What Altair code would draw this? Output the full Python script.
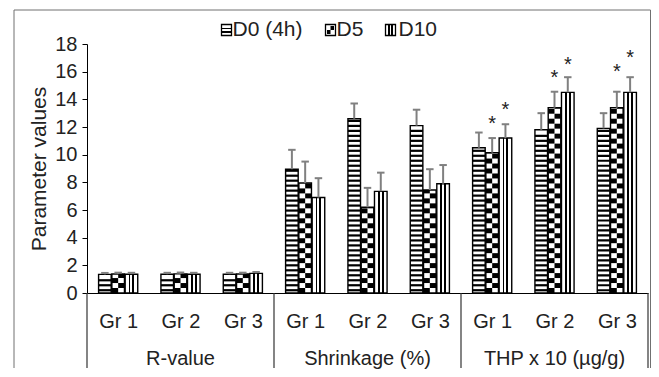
import json
import altair as alt
import pandas as pd

# ---------------- data ----------------
params = ["R-value", "Shrinkage (%)", "THP x 10 (µg/g)"]
groups = ["Gr 1", "Gr 2", "Gr 3"]
series = ["D0 (4h)", "D5", "D10"]

d0_mean = [1.35, 1.36, 1.36, 8.95, 12.6, 12.1, 10.5, 11.8, 11.9]
d5_mean = [1.37, 1.38, 1.37, 7.95, 6.2, 7.45, 10.15, 13.4, 13.4]
d10_mean = [1.36, 1.36, 1.42, 6.9, 7.35, 7.9, 11.2, 14.5, 14.5]

d0_sd = [0.1, 0.1, 0.1, 1.4, 1.1, 1.15, 1.1, 1.2, 1.1]
d5_sd = [0.1, 0.1, 0.1, 1.55, 1.4, 1.5, 1.05, 1.15, 1.15]
d10_sd = [0.1, 0.1, 0.1, 1.4, 1.35, 1.35, 1.0, 1.1, 1.1]

# level at which a significance asterisk is drawn (None = no asterisk)
d0_star = [None] * 9
d5_star = [None] * 6 + [12.6, 15.9, 16.35]
d10_star = [None] * 6 + [13.6, 16.85, 17.35]

y_ticks = [0, 2, 4, 6, 8, 10, 12, 14, 16, 18]

means = [d0_mean, d5_mean, d10_mean]
sds = [d0_sd, d5_sd, d10_sd]
stars = [d0_star, d5_star, d10_star]
NG = len(groups)
NSLOT = len(params) * NG

rows = []
for j, s in enumerate(series):
    for k in range(NSLOT):
        rows.append(dict(series=s, sidx=j, slot=k, param=params[k // NG],
                         group=groups[k % NG], value=means[j][k], sd=sds[j][k],
                         star=stars[j][k]))
df = pd.DataFrame(rows)
gdf = pd.DataFrame({"param": params, "pidx": list(range(len(params)))})
sdf = pd.DataFrame({"b": [i * NG for i in range(len(params) + 1)]})
dummy = pd.DataFrame({"k": [0]})

# ---------------- styling / layout ----------------
W, H = 561, 249
BOTTOM = 324
STEP = 0.213   # distance between bar centres (x units)
HALF = 0.101   # half bar width
P = 0.36       # pattern period (y units)
FONT = "Liberation Sans"
TXT = "#222222"
ERR = "#808080"

xscale = alt.Scale(domain=[0, NSLOT], nice=False, zero=False)
yscale = alt.Scale(domain=[0, 18], nice=False, zero=True)

xaxis = alt.Axis(values=[i + 0.5 for i in range(NSLOT)],
                 labelExpr=f"{json.dumps(groups)}[floor(datum.value) % {NG}]",
                 ticks=False, grid=False, domainColor="black", domainWidth=1.2,
                 labelFontSize=20, labelColor=TXT, labelPadding=18, title=None,
                 labelFont=FONT)
yaxis = alt.Axis(values=y_ticks, grid=False, domainColor="black", tickColor="black",
                 tickSize=5, labelFontSize=20, labelColor=TXT, labelPadding=5,
                 title="Parameter values", titleFontSize=21, titleFontWeight="normal",
                 titleColor=TXT, titlePadding=5, labelFont=FONT, titleFont=FONT)


def X(f):
    return alt.X(f, scale=xscale, axis=xaxis)


def Y(f):
    return alt.Y(f, scale=yscale, axis=yaxis)


def hard_stops(pairs):
    out = []
    for a, b, col in pairs:
        out.append({"offset": a, "color": col})
        out.append({"offset": b, "color": col})
    return out


grad_v = {"gradient": "linear", "x1": 0, "y1": 0, "x2": 1, "y2": 0,
          "stops": hard_stops([(0, 0.27, "white"), (0.27, 0.42, "black"),
                               (0.42, 0.58, "white"), (0.58, 0.73, "black"),
                               (0.73, 1, "white")])}
grad_h = {"gradient": "linear", "x1": 0, "y1": 0, "x2": 0, "y2": 1,
          "stops": hard_stops([(0, 0.3, "white"), (0.3, 0.45, "black"),
                               (0.45, 0.6, "white"), (0.6, 0.75, "black"),
                               (0.75, 1, "white")])}

base = alt.Chart(df).transform_calculate(
    c=f"datum.slot + 0.5 + (datum.sidx - 1) * {STEP}"
).transform_calculate(
    l=f"datum.c - {HALF}", r=f"datum.c + {HALF}", top="datum.value + datum.sd"
)

white = base.mark_rect(fill="white").encode(
    x=X("l:Q"), x2="r:Q", y=Y("value:Q"), y2=alt.datum(0))

vbars = base.transform_filter(f"datum.series == '{series[2]}'").mark_rect(
    fill=grad_v).encode(x=X("l:Q"), x2="r:Q", y=Y("value:Q"), y2=alt.datum(0))

hstripes = base.transform_filter(f"datum.series == '{series[0]}'").transform_calculate(
    seq=f"sequence({P / 2 + 0.02}, datum.value - 0.1, {P})"
).transform_flatten(["seq"]).transform_calculate(
    s1="datum.seq - 0.08", s2="datum.seq + 0.08"
).mark_rect(fill="black").encode(x=X("l:Q"), x2="r:Q", y=Y("s1:Q"), y2="s2:Q")

checker = base.transform_filter(f"datum.series == '{series[1]}'").transform_calculate(
    seq=f"sequence(0, datum.value - 0.05, {P})"
).transform_flatten(["seq"]).transform_calculate(
    row=f"round(datum.seq / {P})"
).transform_calculate(
    cx1="datum.row % 2 == 0 ? datum.l : datum.c",
    cx2="datum.row % 2 == 0 ? datum.c : datum.r",
    cy2=f"min(datum.seq + {P}, datum.value)"
).mark_rect(fill="black").encode(x=X("cx1:Q"), x2="cx2:Q", y=Y("seq:Q"), y2="cy2:Q")

outline = base.mark_rect(fillOpacity=0, stroke="black", strokeWidth=1.4).encode(
    x=X("l:Q"), x2="r:Q", y=Y("value:Q"), y2=alt.datum(0))

errline = base.mark_rule(color=ERR, strokeWidth=2).encode(
    x=X("c:Q"), y=Y("value:Q"), y2="top:Q")
errcap = base.transform_calculate(
    cl="datum.c - 0.06", cr="datum.c + 0.06"
).mark_rule(color=ERR, strokeWidth=2).encode(x=X("cl:Q"), x2="cr:Q", y=Y("top:Q"))

starmk = base.transform_filter("isValid(datum.star)").mark_text(
    text="*", fontSize=20, baseline="middle", dy=5, color=TXT, font=FONT
).encode(x=X("c:Q"), y=Y("star:Q"))

glabels = alt.Chart(gdf).transform_calculate(
    pos=f"datum.pidx * {NG} + {NG / 2}"
).mark_text(fontSize=20, color=TXT, font=FONT, baseline="middle").encode(
    x=X("pos:Q"), y=alt.value(H + 66), text="param:N")

seps = alt.Chart(sdf).mark_rule(color="#333333", strokeWidth=1.2).encode(
    x=X("b:Q"), y=alt.value(H), y2=alt.value(BOTTOM))

FR = "#707070"
frame_l = alt.Chart(dummy).mark_rule(color=FR).encode(
    x=alt.value(-73), y=alt.value(-34), y2=alt.value(BOTTOM))
frame_r = alt.Chart(dummy).mark_rule(color=FR).encode(
    x=alt.value(563.5), y=alt.value(-34), y2=alt.value(BOTTOM))
frame_t = alt.Chart(dummy).mark_rule(color=FR).encode(
    x=alt.value(-73), x2=alt.value(563.5), y=alt.value(-34))

# ---------------- legend ----------------
LY1, LY2 = -19.5, -8.5
sw_x = [134.5, 238.5, 298.5]
tx_x = [145.5, 249.5, 311.5]
legend = []
fills = [grad_h, "white", grad_v]
for j in range(len(series)):
    legend.append(alt.Chart(dummy).mark_rect(fill=fills[j], stroke="black", strokeWidth=1.3).encode(
        x=alt.value(sw_x[j]), x2=alt.value(sw_x[j] + 10), y=alt.value(LY1), y2=alt.value(LY2)))
    legend.append(alt.Chart(dummy).mark_text(text=series[j], fontSize=21, align="left",
                                             baseline="middle", color=TXT, font=FONT).encode(
        x=alt.value(tx_x[j]), y=alt.value(-14)))
# checker marks inside the D5 swatch
legend.append(alt.Chart(dummy).mark_rect(fill="black").encode(
    x=alt.value(sw_x[1] + 1.5), x2=alt.value(sw_x[1] + 5), y=alt.value(LY1 + 5.5), y2=alt.value(LY2 - 1.5)))
legend.append(alt.Chart(dummy).mark_rect(fill="black").encode(
    x=alt.value(sw_x[1] + 5), x2=alt.value(sw_x[1] + 8.5), y=alt.value(LY1 + 1.5), y2=alt.value(LY1 + 5.5)))

chart = alt.layer(
    white, vbars, hstripes, checker, outline, errline, errcap, starmk,
    glabels, seps, frame_l, frame_r, frame_t, *legend
).properties(
    width=W, height=H,
    padding={"left": 5, "top": 1, "right": 0, "bottom": 0}
).configure(font=FONT).configure_view(stroke=None)

chart.save("out.html", embed_options={"renderer": "svg", "actions": False})
